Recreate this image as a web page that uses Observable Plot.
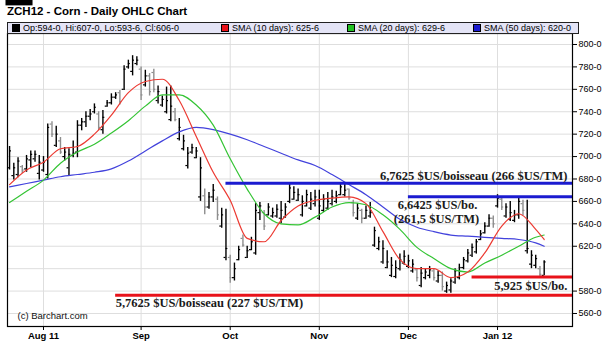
<!DOCTYPE html>
<html><head><meta charset="utf-8">
<script src="https://cdn.jsdelivr.net/npm/d3@7"></script>
<script src="https://cdn.jsdelivr.net/npm/@observablehq/plot@0.6"></script>
<style>
body{margin:0;background:#fff;}
#wrap{position:relative;width:610px;height:349px;overflow:hidden;font-family:"Liberation Sans",Arial,sans-serif;color:#000;}
#chart{position:absolute;left:0;top:0;}
#title{position:absolute;left:7px;top:5px;font-weight:bold;font-size:11.5px;white-space:nowrap;}
#legend{position:absolute;left:7px;top:22px;width:570px;height:10px;border:1px solid #222;background:#e4e4f6;font-size:9px;line-height:10px;}
.item{position:absolute;top:0;white-space:nowrap;}
.sw{display:inline-block;width:6px;height:6px;border:1px solid #000;margin-right:3px;vertical-align:-0.5px;}
</style></head>
<body>
<div id="wrap">
  <div id="chart"></div>
  <div id="title"></div>
  <div id="legend"></div>
</div>
<script>
// ---- data (trading-day index 0 = Jul 20 2011 ... 126 = Jan 19 2012) ----
const opens = [690,683,684,691,689,697,698,685,688,684, 729,710,714,700,690,701,704,728,731,736,
  740,738,724,745,748,753,757,760,780,776, 783,778,764,772,775,750,746,740,733,740,
  716,707,692,704,699,664,665,655,664,662, 638,610,610,592,608,627,610,617,614,650,
  650,648,647,647,645,646,660,662,661,648, 656,654,658,645,652,654,658,660,666,666,
  671,659,645,652,645,647,621,618,606,601, 594,593,600,605,602,598,599,585,592,594,
  598,589,594,580,581,588,592,601,607,612, 615,626,632,638,645,656,662,647,644,643,
  648,658,616,604,603,600,594];
const highs = [709,694,699,692,701,705,705,701,700,729, 731,727,717,708,707,714,732,734,740,742,
  747,740,741,750,756,757,759,781,786,790, 789,780,777,774,778,763,754,762,763,743,
  734,719,708,711,708,699,671,668,675,664, 654,653,612,605,620,630,620,628,658,659,
  652,658,654,657,660,658,676,673,671,665, 670,668,670,670,666,668,670,669,676,676,
  671,661,658,653,656,659,637,628,625,616, 610,607,613,616,612,608,600,601,600,602,
  600,598,597,588,591,600,604,610,617,622, 626,634,641,648,647,666,663,658,660,652,
  663,661,661,616,612,602,607];
const lows = [688,679,681,685,686,690,695,679,686,680, 717,708,702,696,683,699,699,723,726,732,
  738,723,720,744,746,751,746,759,778,772, 781,750,762,754,757,747,744,738,731,731,
  714,705,689,702,698,660,648,653,659,643, 636,607,587,589,607,619,609,616,612,643,
  634,647,645,645,640,645,658,661,660,646, 655,652,655,643,650,652,656,658,665,664,
  661,646,643,640,644,645,619,616,604,600, 592,591,598,603,600,596,588,583,590,591,
  589,587,580,578,578,586,590,599,605,610, 613,625,631,637,636,654,652,645,642,641,
  644,647,613,600,600,593,593.75];
const closes = [705,690,696,688,698,702,702,695,695,726, 720,720,704,704,702,703,728,731,736,738,
  744,726,735,748,753,755,749,778,783,786, 786,755,772,758,760,758,751,750,745,733,
  726,714,703,708,705,690,655,664,670,648, 648,618,592,600,617,621,616,624,652,656,
  638,655,650,653,652,655,672,668,666,660, 666,662,664,656,662,660,664,665,673,670,
  663,650,654,645,652,650,634,624,618,606, 603,601,608,611,607,604,592,596,597,599,
  592,594,584,585,589,598,601,608,614,619, 624,631,638,645,640,663,655,655,650,648,
  660,652,618,612,609,595,606];

// moving averages at every 4th trading day
const smaIdx = [0,4,8,12,16,20,24,28,32,36,40,44,48,52,56,60,64,68,72,76,80,84,88,92,96,100,104,108,112,116,120,124,126];
const sma10 = [675,688,695,707,709,720,737,757,767,769,750,718,686,661,627,624,643,656,661,663,664,658,633,608,600,600,592,597,614,638,649,635,626];
const sma20 = [659,669,679,694,704,711,721,732,745,755,755,746,728,698,671,649,640,639,646,655,659,657,648,635,619,609,600,597,605,612,620,628,630];
const sma50 = [673,676,679,682,684,686,689,696,705,714,722,726,724,720,715,709,703,697,692,684,675,666,655,644,637,633,630,629,628,627,626,623,620];

// x axis: month starts (trading-day index) and their labels
const monthIdx = [8,31,52,73,94,115];
const monthLabels = ["Aug 11","Sep","Oct","Nov","Dec","Jan 12"];
// y axis ticks
const yTicks = [560,580,600,620,640,660,680,700,720,740,760,780,800];
const lastClose = 606;

// price levels drawn on the chart
const levelPrice = [676.25, 664.25, 592.5, 576.25];
const levelStart = [51, 94, 109, 25];
const levelKind = ["resistance","resistance","support","support"];
const levelText = ["6,7625 $US/boisseau (266 $US/TM)", "6,6425 $US/bo.", "5,925 $US/bo.", "5,7625 $US/boisseau (227 $US/TM)"];
const extraText = "(261,5 $US/TM)";

// legend
const legendText = ["Op:594-0, Hi:607-0, Lo:593-6, Cl:606-0","SMA (10 days): 625-6","SMA (20 days): 629-6","SMA (50 days): 620-0"];

// ---- build ----
const bars = opens.map((o,i)=>({i, open:o, high:highs[i], low:lows[i], close:closes[i]}));
const sma = smaIdx.map((i,k)=>({i, s10:sma10[k], s20:sma20[k], s50:sma50[k]}));
const xDomain = [-0.486, 132.67];
const levels = levelPrice.map((p,k)=>({price:p, start:levelStart[k], kind:levelKind[k], text:levelText[k]}));
const BLUE = "#1b1bd0", RED = "#e8121a";
const barColor = d => d.close < d.open ? "#8e8e8e" : "#000000";
const serif = "Liberation Serif, Times New Roman, serif";

const svg = Plot.plot({
  width:610, height:349,
  marginTop:33, marginBottom:23, marginLeft:7, marginRight:38,
  x:{type:"linear", domain:xDomain, axis:null},
  y:{domain:[548.4, 809.8], axis:null},
  style:{fontFamily:"Liberation Sans, Arial, sans-serif", background:"#fff", color:"#000"},
  marks:[
    Plot.gridY(yTicks, {stroke:"#dedede", strokeOpacity:1}),
    Plot.gridX(monthIdx, {stroke:"#dedede", strokeOpacity:1}),
    Plot.ruleX(bars, {x:"i", y1:"low", y2:"high", stroke:barColor, strokeWidth:1.4}),
    Plot.ruleY(bars, {y:"open", x1:d=>d.i-0.45, x2:"i", stroke:barColor, strokeWidth:1.2}),
    Plot.ruleY(bars, {y:"close", x1:"i", x2:d=>d.i+0.45, stroke:barColor, strokeWidth:1.2}),
    Plot.line(sma, {x:"i", y:"s50", stroke:"#4242dc", strokeWidth:1.2, curve:"monotone-x"}),
    Plot.line(sma, {x:"i", y:"s20", stroke:"#34c434", strokeWidth:1.2, curve:"monotone-x"}),
    Plot.line(sma, {x:"i", y:"s10", stroke:"#ec3a32", strokeWidth:1.2, curve:"monotone-x"}),
    Plot.ruleY(levels, {y:"price", x1:"start", x2:()=>xDomain[1], stroke:d=>d.kind==="resistance"?BLUE:RED, strokeWidth:3}),
    // annotations
    Plot.text([levels[0]], {y:"price", text:"text", frameAnchor:"right", dx:-5, dy:-7, textAnchor:"end", fontFamily:serif, fontWeight:"bold", fontSize:12.5, fill:"#1a1a1a"}),
    Plot.text([levels[1]], {y:"price", text:"text", frameAnchor:"right", dx:-135, dy:8, textAnchor:"middle", fontFamily:serif, fontWeight:"bold", fontSize:12.5, fill:"#1a1a1a"}),
    Plot.text([levels[1]], {y:"price", text:()=>extraText, frameAnchor:"right", dx:-136, dy:22, textAnchor:"middle", fontFamily:serif, fontWeight:"bold", fontSize:12.5, fill:"#1a1a1a"}),
    Plot.text([levels[2]], {y:"price", text:"text", frameAnchor:"right", dx:-5, dy:9, textAnchor:"end", fontFamily:serif, fontWeight:"bold", fontSize:12.5, fill:"#1a1a1a"}),
    Plot.text([levels[3]], {x:"start", y:"price", text:"text", dx:0, dy:8, textAnchor:"start", fontFamily:serif, fontWeight:"bold", fontSize:12.5, fill:"#1a1a1a"}),
    Plot.text(["(c) Barchart.com"], {text:d=>d, frameAnchor:"bottom-left", dx:10, dy:-8, textAnchor:"start", fontSize:9.5, fill:"#111"}),
    Plot.axisY(yTicks.filter(t=>t!==600), {anchor:"right", tickSize:4, tickPadding:2, tickFormat:d=>d+"-0", fontSize:9, stroke:"#000"}),
    Plot.axisX(monthIdx, {anchor:"bottom", tickSize:4, tickPadding:2, tickFormat:d=>monthLabels[monthIdx.indexOf(d)], fontSize:9.5, fontWeight:"bold", stroke:"#000"}),
    Plot.frame({stroke:"#000", strokeWidth:1.2}),
    Plot.text([lastClose], {y:d=>d, text:d=>d+"-0", frameAnchor:"right", dx:7, textAnchor:"start", fontSize:9, fill:"#fff"})
  ]
});
document.getElementById("chart").appendChild(svg);

// black background box behind the last-price label
d3.select(svg).selectAll("text").filter(function(){return this.textContent===lastClose+"-0";}).each(function(){
  const b = this.getBBox();
  d3.select(this.parentNode).insert("rect", ()=>this)
    .attr("x", b.x-2).attr("y", b.y).attr("width", b.width+4).attr("height", b.height)
    .attr("fill", "#000");
});

document.getElementById("title").textContent = "ZCH12 - Corn - Daily OHLC Chart";
const legendColors = ["#000","#e8121a","#22c022","#1b1bd0"];
const legendLeft = [4, 213, 339, 465];
const leg = document.getElementById("legend");
legendText.forEach((t,k)=>{
  const it = document.createElement("div");
  it.className = "item";
  it.style.left = legendLeft[k] + "px";
  const sw = document.createElement("span");
  sw.className = "sw";
  sw.style.background = legendColors[k];
  it.appendChild(sw);
  it.appendChild(document.createTextNode(t));
  leg.appendChild(it);
});
</script>
</body></html>
